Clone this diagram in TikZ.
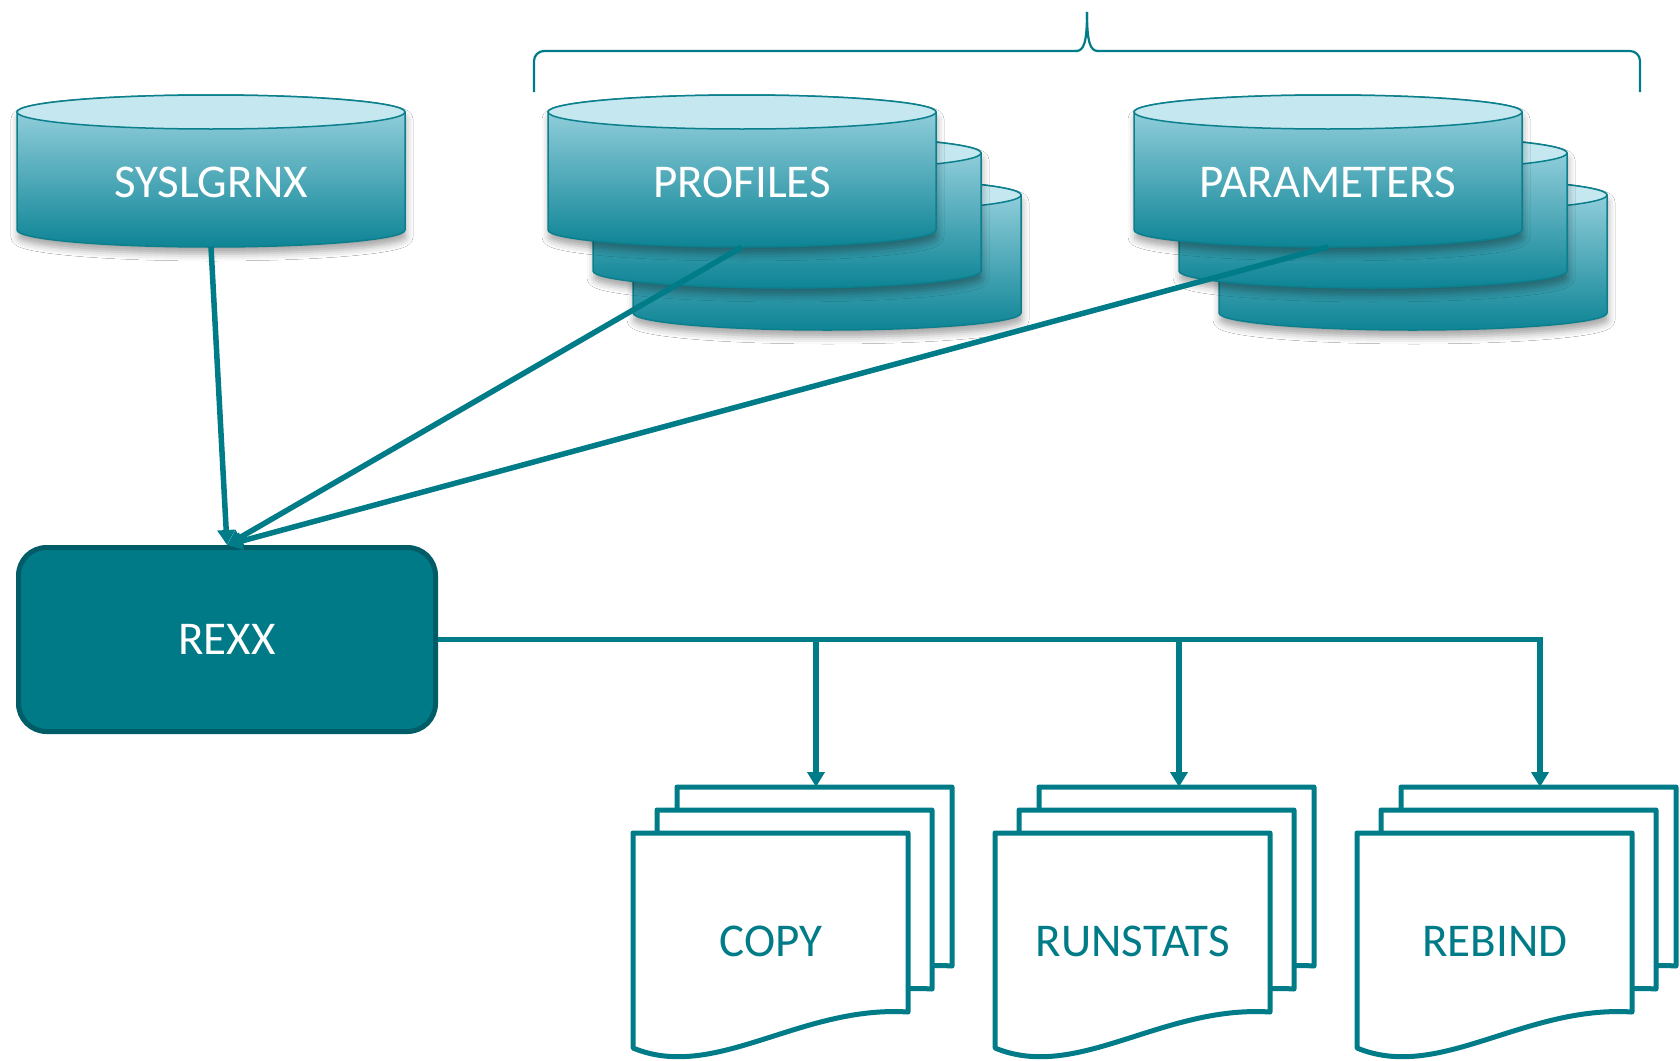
\documentclass[tikz,border=0pt]{standalone}
\usepackage{fontspec}
\setmainfont{Carlito}
\usetikzlibrary{arrows.meta,shadows.blur}
\definecolor{tealline}{HTML}{007B88}
\definecolor{rexxfill}{HTML}{007A86}
\definecolor{rexxedge}{HTML}{005C67}
\definecolor{cyltopc}{HTML}{C5E8F0}
\definecolor{cylhi}{HTML}{A0D6E3}
\definecolor{cyllo}{HTML}{0D8495}
\definecolor{cyledge}{HTML}{0B7F8C}
\tikzset{
  conn/.style={draw=tealline,line width=5.5pt},
  arr/.style={conn,-{Triangle[length=15pt,width=17pt]}},
  cylside/.style={top color=cylhi,bottom color=cyllo,draw=cyledge,line width=1.5pt},
  cyltop/.style={fill=cyltopc,draw=cyledge,line width=1.5pt},
  cylshadow/.style={blur shadow={shadow xshift=1pt,shadow yshift=-7pt,shadow blur radius=7pt,shadow opacity=35}},
  cyltext/.style={text=white,font=\fontsize{47}{56}\selectfont,inner sep=0pt},
  rexxbox/.style={rectangle,rounded corners=28pt,fill=rexxfill,draw=rexxedge,line width=5pt,
    minimum width=417pt,minimum height=184pt,inner sep=0pt,text=white,font=\fontsize{47}{56}\selectfont},
  docpage/.style={fill=white,draw=tealline,line width=5pt,line join=round},
  doctext/.style={text=tealline,font=\fontsize{47}{56}\selectfont,inner sep=0pt},
  bracket/.style={draw=tealline,line width=2.2pt},
}
\newcommand{\dbcyl}[2]{%
  \path[cylside,cylshadow] (#1,-#2) -- (#1,-#2-118)
    arc[start angle=180,end angle=360,x radius=194pt,y radius=17pt]
    -- (#1+388,-#2)
    arc[start angle=0,end angle=180,x radius=194pt,y radius=17pt] -- cycle;
  \path[cyltop] (#1+194,-#2) ellipse[x radius=194pt,y radius=17pt];
}
\newcommand{\docpg}[2]{%
  \path[docpage] (#1,-#2) -- (#1+275,-#2) -- (#1+275,-#2-179)
    .. controls (#1+167,-#2-172) and (#1+82,-#2-249) .. (#1,-#2-215) -- cycle;
}
\newcommand{\docstack}[1]{%
  \docpg{#1+44}{787}\docpg{#1+24}{810}\docpg{#1}{833}%
}
\begin{document}
\begin{tikzpicture}[x=1pt,y=1pt]
\useasboundingbox (0,0) rectangle (1680,-1060);
\fill[white] (0,0) rectangle (1680,-1060);

% bracket
\draw[bracket,rounded corners=10pt] (534,-92) -- (534,-51) -- (1077,-51);
\draw[bracket] (1076,-51) .. controls (1084,-51) and (1087,-42) .. (1087,-12);
\draw[bracket] (1087,-12) .. controls (1087,-42) and (1090,-51) .. (1098,-51);
\draw[bracket,rounded corners=10pt] (1097,-51) -- (1640,-51) -- (1640,-92);

% cylinders
\dbcyl{17}{112}
\dbcyl{633}{195}
\dbcyl{593}{153}
\dbcyl{548}{112}
\dbcyl{1219}{195}
\dbcyl{1179}{153}
\dbcyl{1134}{112}

\node[cyltext] (sys) at (211,-182) {SYSLGRNX};
\node[cyltext] (prof) at (742,-182) {PROFILES};
\node[cyltext] (par) at (1328,-182) {PARAMETERS};

\coordinate (sysb) at (211,-247);
\coordinate (profb) at (742,-247);
\coordinate (parb) at (1328,-247);

% REXX
\node[rexxbox] (rexx) at (227,-639.5) {REXX};

% documents
\docstack{633}
\docstack{995}
\docstack{1357}
\node[doctext] (copy) at (771,-941) {COPY};
\node[doctext] (runstats) at (1133,-941) {RUNSTATS};
\node[doctext] (rebind) at (1495,-941) {REBIND};

\coordinate (copytop) at (816,-787);
\coordinate (runtop) at (1179,-787);
\coordinate (rebtop) at (1540,-787);
\coordinate (j1) at (816,-639.5);
\coordinate (j2) at (1179,-639.5);

% connectors
\draw[arr] (sysb) -- (rexx.north);
\draw[arr] (profb) -- (rexx.north);
\draw[arr] (parb) -- (rexx.north);
\draw[arr] (rexx.east) -| (rebtop);
\draw[arr] (j1) -- (copytop);
\draw[arr] (j2) -- (runtop);
\end{tikzpicture}
\end{document}
